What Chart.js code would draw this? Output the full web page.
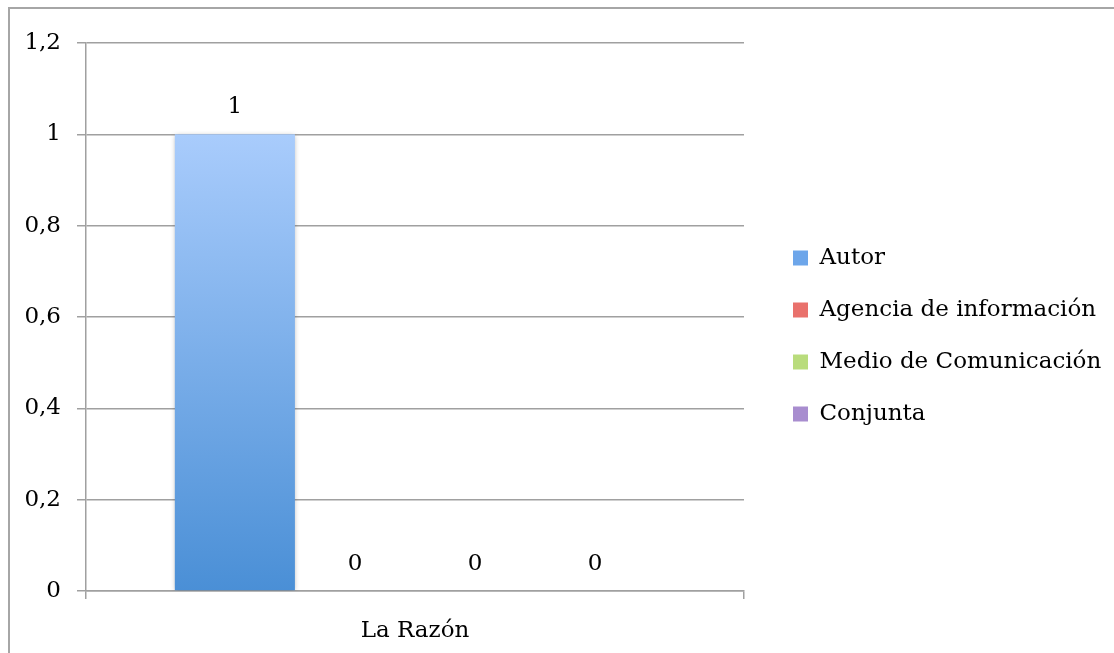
<!DOCTYPE html>
<html lang="es">
<head>
<meta charset="utf-8">
<title>La Razón</title>
<script src="https://cdn.jsdelivr.net/npm/chart.js@4.4.1/dist/chart.umd.min.js"></script>
<style>
  html, body { margin: 0; padding: 0; background: #fff; overflow: hidden; }
  canvas { display: block; }
</style>
</head>
<body>
<canvas id="grafico" width="1114" height="653"></canvas>
<script>
// datos del grafico
const categorias = ['La Razón'];
const series = ['Autor', 'Agencia de información', 'Medio de Comunicación', 'Conjunta'];
const valoresAutor = [1];
const valoresAgencia = [0];
const valoresMedio = [0];
const valoresConjunta = [0];
const ticksY = [0, 0.2, 0.4, 0.6, 0.8, 1, 1.2];

// colores (arriba claro, abajo oscuro)
const coloresClaros = ['#a9ccfc', '#f7a5a2', '#d6efa8', '#c8b4e6'];
const coloresOscuros = ['#4a8fd6', '#d9534f', '#9bc55a', '#8a6bb8'];
const coloresLeyenda = ['#6da6ea', '#e9716c', '#b9dc7c', '#a88dcf'];

const fuente = 'DejaVu Serif';

function degradado(i) {
  return (ctx) => {
    const area = ctx.chart.chartArea;
    if (!area) return coloresOscuros[i];
    const g = ctx.chart.ctx.createLinearGradient(0, area.top + 91, 0, area.bottom);
    g.addColorStop(0, coloresClaros[i]);
    g.addColorStop(1, coloresOscuros[i]);
    return g;
  };
}

// marco exterior (solo se ven los bordes izquierdo y superior)
const marco = {
  id: 'marco',
  beforeDraw(chart) {
    const ctx = chart.ctx;
    ctx.save();
    ctx.strokeStyle = '#a6a6a6';
    ctx.lineWidth = 2;
    ctx.beginPath();
    ctx.moveTo(9, chart.height);
    ctx.lineTo(9, 8);
    ctx.lineTo(chart.width, 8);
    ctx.stroke();
    ctx.restore();
  }
};

// etiquetas de valor encima de cada barra
const etiquetasValor = {
  id: 'etiquetasValor',
  afterDatasetsDraw(chart) {
    const ctx = chart.ctx;
    ctx.save();
    ctx.font = '23px "' + fuente + '"';
    ctx.fillStyle = '#000';
    ctx.textAlign = 'center';
    ctx.textBaseline = 'middle';
    chart.data.datasets.forEach((ds, i) => {
      chart.getDatasetMeta(i).data.forEach((bar, j) => {
        ctx.fillText(String(ds.data[j]).replace('.', ','), bar.x, bar.y - 27);
      });
    });
    ctx.restore();
  }
};

// sombra suave de las barras
const sombra = {
  id: 'sombra',
  beforeDatasetsDraw(chart) {
    const ctx = chart.ctx;
    ctx.save();
    ctx.shadowColor = 'rgba(0,0,0,0.28)';
    ctx.shadowBlur = 5;
    ctx.shadowOffsetY = 1;
  },
  afterDatasetsDraw(chart) {
    chart.ctx.restore();
  }
};

// ancho fijo de la leyenda y desplazamiento
const posLeyenda = {
  id: 'posLeyenda',
  afterInit(chart) {
    const lg = chart.legend;
    const fit = lg.fit;
    lg.fit = function () { fit.call(this); this.width = 370; };
  },
  afterLayout(chart) {
    const lg = chart.legend;
    lg.left += 20;
    lg.right += 20;
    lg.top -= 12;
    lg.bottom -= 12;
  }
};

const datos = [valoresAutor, valoresAgencia, valoresMedio, valoresConjunta];

new Chart(document.getElementById('grafico'), {
  type: 'bar',
  data: {
    labels: categorias,
    datasets: series.map((nombre, i) => ({
      label: nombre,
      data: datos[i],
      backgroundColor: degradado(i),
      borderWidth: 0,
      categoryPercentage: 0.73,
      barPercentage: 1
    }))
  },
  options: {
    responsive: false,
    animation: false,
    layout: { padding: { top: 43, left: 0, right: 0, bottom: 0 } },
    scales: {
      x: {
        offset: true,
        grid: {
          offset: true,
          drawOnChartArea: false,
          drawTicks: true,
          tickLength: 8,
          color: '#a0a0a0',
          lineWidth: 1.5
        },
        border: { color: '#a0a0a0', width: 1.5 },
        ticks: { color: '#000', font: { family: fuente, size: 23 }, padding: 18 },
        afterFit: (s) => { s.height = 62; }
      },
      y: {
        min: 0,
        max: 1.2,
        afterBuildTicks: (s) => { s.ticks = ticksY.map(v => ({ value: v })); },
        grid: { color: '#a0a0a0', lineWidth: 1.5, tickLength: 9 },
        border: { color: '#a0a0a0', width: 1.5 },
        ticks: {
          color: '#000',
          font: { family: fuente, size: 23 },
          padding: 16,
          callback: (v) => String(Math.round(v * 10) / 10).replace('.', ',')
        },
        afterFit: (s) => { s.width = 86; }
      }
    },
    plugins: {
      legend: {
        position: 'right',
        labels: {
          boxWidth: 15,
          boxHeight: 15,
          padding: 29,
          color: '#000',
          font: { family: fuente, size: 23 },
          generateLabels: (chart) => chart.data.datasets.map((ds, i) => ({
            text: ds.label,
            fillStyle: coloresLeyenda[i],
            strokeStyle: coloresLeyenda[i],
            lineWidth: 0,
            hidden: false,
            datasetIndex: i
          }))
        }
      },
      tooltip: { enabled: false }
    }
  },
  plugins: [marco, sombra, etiquetasValor, posLeyenda]
});
</script>
</body>
</html>
